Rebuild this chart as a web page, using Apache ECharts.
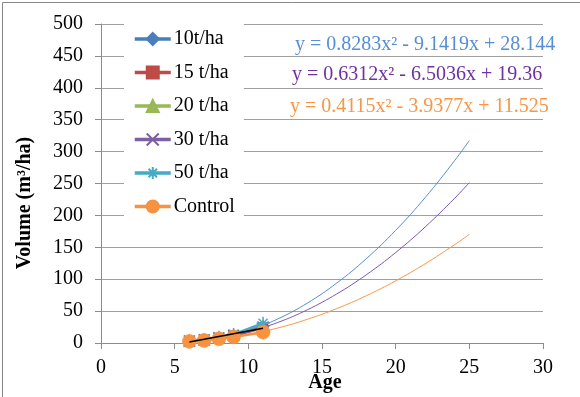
<!DOCTYPE html>
<html>
<head>
<meta charset="utf-8">
<script src="https://cdn.jsdelivr.net/npm/echarts@6/dist/echarts.min.js"></script>
<style>html,body{margin:0;padding:0;background:#fff}#c{width:580px;height:397px}</style>
</head>
<body>
<div id="c"></div>
<script>
// ---- data ----
var ages = [6, 7, 8, 9, 11];
var seriesNames = ['10t/ha', '15 t/ha', '20 t/ha', '30 t/ha', '50 t/ha', 'Control'];
var v10 = [3, 5, 8, 12, 26];
var v15 = [3, 4.5, 7.5, 11, 24];
var v20 = [3.5, 5.5, 9, 13, 27];
var v30 = [3, 5, 8, 12, 25];
var v50 = [3.5, 5.5, 9, 13.5, 31];
var vControl = [2.5, 4, 6.5, 9.5, 17];
// black straight line across the cluster
var blackLineX = [6, 11];
var blackLineY = [1.5, 23];
// trendline curves
var trendX = [6, 8, 10, 12, 14, 16, 18, 20, 22, 24, 25];
var trendBlue = [3.1, 8.0, 19.6, 37.7, 62.5, 93.9, 132.0, 176.6, 227.9, 285.8, 317.3];
var trendPurple = [3.1, 7.7, 17.4, 32.2, 52.0, 76.9, 106.8, 141.8, 181.8, 226.8, 251.3];
var trendOrange = [2.7, 6.4, 13.3, 23.5, 37.1, 53.9, 74.0, 97.4, 124.1, 154.1, 170.3];
var equations = [
  'y = 0.8283x\u00b2 - 9.1419x + 28.144',
  'y = 0.6312x\u00b2 - 6.5036x + 19.36',
  'y = 0.4115x\u00b2 - 3.9377x + 11.525'
];
var xTicks = {min: 0, max: 30, interval: 5};
var yTicks = {min: 0, max: 500, interval: 50};

function pairs(xs, ys) { return xs.map(function (x, i) { return [x, ys[i]]; }); }

var FONT = '"Liberation Serif", "Times New Roman", serif';
var colors = {
  '10t/ha': '#4A7EBB', '15 t/ha': '#BE4B48', '20 t/ha': '#98B954',
  '30 t/ha': '#7D60A0', '50 t/ha': '#46AAC5', 'Control': '#F69240'
};
var symbols = {
  '10t/ha': ['diamond', 12], '15 t/ha': ['rect', 10], '20 t/ha': ['triangle', 12],
  '30 t/ha': ['path://M0,0L10,10M10,0L0,10', 11],
  '50 t/ha': ['path://M5,0L5,10M0,5L10,5M1.5,1.5L8.5,8.5M8.5,1.5L1.5,8.5', 13],
  'Control': ['circle', 14]
};
var values = {'10t/ha': v10, '15 t/ha': v15, '20 t/ha': v20, '30 t/ha': v30, '50 t/ha': v50, 'Control': vControl};

var series = [];
var trends = [[trendBlue, '#558ED5'], [trendPurple, '#7E57B0'], [trendOrange, '#F79646']];
trends.forEach(function (t, i) {
  series.push({
    name: 'trend' + i, type: 'line', data: pairs(trendX, t[0]), smooth: 0.4,
    showSymbol: false, symbol: 'none', silent: true, z: 1,
    lineStyle: {color: t[1], width: 1}
  });
});
seriesNames.forEach(function (n, i) {
  var isStroke = (n === '30 t/ha' || n === '50 t/ha');
  series.push({
    name: n, type: 'line', data: pairs(ages, values[n]),
    symbol: symbols[n][0], symbolSize: symbols[n][1], showAllSymbol: true, z: 2 + i,
    lineStyle: {color: colors[n], width: 2.5},
    itemStyle: {color: colors[n], borderColor: colors[n], borderWidth: isStroke ? 1.5 : 0.5}
  });
});
series.push({
  name: 'blackline', type: 'line', data: pairs(blackLineX, blackLineY), symbol: 'none',
  silent: true, z: 20, lineStyle: {color: '#000', width: 1.5}
});

var axisCol = '#8c8c8c';
var option = {
  animation: false,
  backgroundColor: '#fff',
  grid: {left: 101, right: 37, top: 24, bottom: 54},
  xAxis: {
    type: 'value', min: xTicks.min, max: xTicks.max, interval: xTicks.interval,
    axisLine: {show: true, lineStyle: {color: axisCol}},
    axisTick: {show: true, length: 6, lineStyle: {color: axisCol}},
    splitLine: {show: false},
    axisLabel: {color: '#000', fontFamily: FONT, fontSize: 20, margin: 15}
  },
  yAxis: {
    type: 'value', min: yTicks.min, max: yTicks.max, interval: yTicks.interval,
    axisLine: {show: true, lineStyle: {color: axisCol}},
    axisTick: {show: true, length: 6, lineStyle: {color: axisCol}},
    splitLine: {show: true, lineStyle: {color: '#a0a0a0', width: 1}},
    axisLabel: {color: '#000', fontFamily: FONT, fontSize: 20, margin: 18}
  },
  legend: {
    data: seriesNames, orient: 'vertical', left: 124, top: 21,
    padding: [8, 9, 8, 9], itemGap: 13.5, itemWidth: 36, itemHeight: 15,
    backgroundColor: '#fff',
    lineStyle: {width: 3.5},
    textStyle: {color: '#000', fontFamily: FONT, fontSize: 20, lineHeight: 20, padding: [0, 0, 0, -2]}
  },
  graphic: [
    {type: 'rect', left: 0, top: 0, z: 100, silent: true,
     shape: {x: 0.5, y: 0.5, width: 579, height: 396},
     style: {fill: 'none', stroke: '#868686', lineWidth: 1}},
    {type: 'text', x: 25, y: 203, rotation: Math.PI / 2, z: 100,
     style: {text: 'Volume (m\u00b3/ha)', font: 'bold 20px ' + FONT, fill: '#000', align: 'center', verticalAlign: 'middle'}},
    {type: 'text', x: 325, y: 383, z: 100,
     style: {text: 'Age', font: 'bold 20px ' + FONT, fill: '#000', align: 'center', verticalAlign: 'middle'}},
    {type: 'text', x: 295, y: 45, z: 100,
     style: {text: equations[0], font: '20px ' + FONT, fill: '#558ED5', align: 'left', verticalAlign: 'middle'}},
    {type: 'text', x: 292, y: 75, z: 100,
     style: {text: equations[1], font: '20px ' + FONT, fill: '#7030A0', align: 'left', verticalAlign: 'middle'}},
    {type: 'text', x: 290, y: 107, z: 100,
     style: {text: equations[2], font: '20px ' + FONT, fill: '#F79646', align: 'left', verticalAlign: 'middle'}}
  ],
  series: series
};
var chart = echarts.init(document.getElementById('c'), null, {renderer: 'canvas'});
chart.setOption(option);
</script>
</body>
</html>
